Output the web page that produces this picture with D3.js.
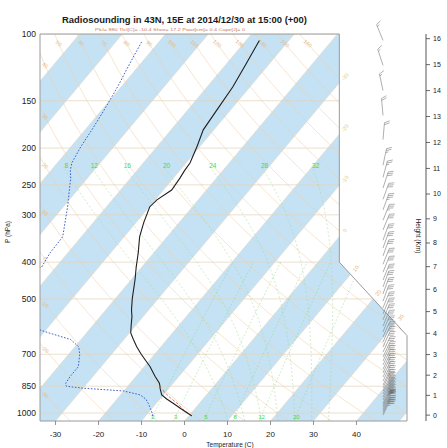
<!DOCTYPE html>
<html><head><meta charset="utf-8">
<script src="https://cdn.jsdelivr.net/npm/d3@7"></script>
<style>
body{margin:0;background:#fff}
svg{display:block;font-family:"Liberation Sans",Arial,Helvetica,sans-serif}
</style>
</head><body>
<svg id="chart" width="447" height="448"></svg>
<script>
// ---- Sounding (pressure hPa, temperature C, dew point C) ----
const presLevels = [1018,1000,975,943,920,896,875,860,850,835,800,755,700,669,640,615,585,557,535,500,445,412,378,343,315,286,274,258,240,229,219,198,179,159,138,120,104];
const tempC = [0.7,-0.9,-3.2,-6.1,-8.3,-10.4,-11.4,-12.1,-12.5,-13.2,-15.6,-18.6,-23.1,-25.6,-27.8,-29.7,-31.2,-32.6,-34.0,-36.0,-39.1,-41.3,-43.6,-46.4,-48.2,-49.9,-49.6,-48.1,-48.5,-48.9,-49.1,-50.7,-52.5,-53.2,-54.0,-55.4,-56.9];
const dewpC = [-8.4,-9.1,-10.3,-11.9,-13.2,-15.4,-20.0,-30.1,-34.3,-35.0,-35.3,-35.3,-37.4,-39.1,-42.4,-48.7,-56,-60,-64,-68,-67,-63.3,-64.1,-64.3,-66.5,-69.0,-70.2,-71.9,-73.9,-75.5,-76.6,-77.7,-78.4,-79.4,-80.8,-82.5,-84.1];

// lifted parcel
const parcelP = [1018,980,947,915,880,866];
const parcelT = [0.7,-2.5,-4.8,-7.6,-10.4,-11.3];

// winds (hPa, direction deg, speed kt)
const windP = [104,121,141,164,190,222,239,255,273,291,310,329,350,367,385,405,425,446,465,485,507,528,548,568,590,611,630,650,670,691,712,729,747,766,784,804,824,844,859,875,891,908,924,941,953,964,976,988,1000,1013];
const windDir = [338,342,348,355,5,12,15,18,20,20,22,22,20,20,20,22,22,22,20,20,20,22,22,22,22,22,24,24,24,25,25,25,25,25,25,25,25,25,25,26,26,26,26,26,26,26,26,26,26,26];
const windKt = [15,15,15,20,20,25,25,30,30,35,35,30,30,30,30,30,30,30,30,30,30,30,30,30,30,30,30,30,30,30,30,30,35,35,35,35,35,35,40,40,40,45,45,45,50,50,45,45,40,35];

// axes
const pressTicks = [1000,850,700,500,400,300,250,200,150,100];
const tempTicks = [-30,-20,-10,0,10,20,30,40];
const heightKm = [0,1,2,3,4,5,6,7,8,9,10,11,12,13,14,15,16];
const heightP = [1013.25,898.76,794.95,701.21,616.40,540.20,471.81,411.05,356.00,307.42,264.36,226.32,193.30,165.10,141.02,120.45,102.87];

// background families
const isothermBands = d3.range(-180, 60, 20);
const isotherms = d3.range(-180, 60, 10);
const isothermLabels = [-30,-20,-10,0,10,20,30];
const dryAdiabats = d3.range(-30, 170, 10);
const moistAdiabats = [8,12,16,20,24,28,32];
const mixRatios = [2,3,5,8,12,20];

const title = "Radiosounding in 43N, 15E  at  2014/12/30 at 15:00   (+00)";
const thermoInfo = "Plcl= 880  Tlcl[C]= -10.4  Shox= 17.2  Pwat[cm]= 0.4  Cape[J]= 0";

// ---- skew-T coordinates ----
const skewY = p => 132.182 - 44.061 * Math.log10(p);
const skewX = (t, p) => 0.54 * t + 0.90692 * skewY(p);
const sx = d3.scaleLinear().domain([-19, 27.1]).range([40, 407]);
const sy = d3.scaleLinear().domain([-0.9346217, 44.061]).range([421, 34]);
const PX = (t, p) => sx(skewX(t, p));
const PY = p => sy(skewY(p));

const svg = d3.select("#chart");

// outline of the diagram area (cut corner on the upper right)
const outline = [[-19,-0.9346217],[27.1,-0.9346217],[27.1,9.0],[18.6,17.53],[18.6,44.061],[-19,44.061]]
  .map(d => [sx(d[0]), sy(d[1])]);
const outlineInside = (x, y) => d3.polygonContains(outline, [x, y]);

svg.append("clipPath").attr("id","frame").append("polygon").attr("points", outline.map(d=>d.join(",")).join(" "));
const bg = svg.append("g").attr("clip-path","url(#frame)");

// isotherm colour bands
bg.selectAll("polygon.band").data(isothermBands).join("polygon").attr("class","band")
  .attr("points", t => [[PX(t,1050),PY(1050)],[PX(t+10,1050),PY(1050)],[PX(t+10,100),PY(100)],[PX(t,100),PY(100)]].map(d=>d.join(",")).join(" "))
  .attr("fill","#c4e2f4");

// isotherms
bg.selectAll("line.iso").data(isotherms).join("line")
  .attr("x1", t=>PX(t,1050)).attr("y1", PY(1050)).attr("x2", t=>PX(t,100)).attr("y2", PY(100))
  .attr("stroke","#ead7bd").attr("stroke-width",0.5);

// isobars
bg.selectAll("line.isobar").data(pressTicks).join("line")
  .attr("x1",40).attr("x2",407).attr("y1",PY).attr("y2",PY)
  .attr("stroke","#e2d2bc").attr("stroke-width",0.7);

const line = d3.line().x(d=>d[0]).y(d=>d[1]);
const pGrid = d3.range(1050, 99, -5);

// dry adiabats
const dryPath = th => pGrid.map(p => [PX((th+273.15)*Math.pow(p/1000,0.2857)-273.15, p), PY(p)]);
bg.selectAll("path.dry").data(dryAdiabats).join("path")
  .attr("d", th => line(dryPath(th))).attr("fill","none")
  .attr("stroke","#efcfa8").attr("stroke-width",0.55);

// pseudo-adiabats
const Rd=287.04, cp=1005.7, Lv=2.501e6, eps=0.622;
const esat = tk => 6.112*Math.exp(17.67*(tk-273.15)/(tk-29.65));
const wsat = (tk,p) => eps*esat(tk)/(p-esat(tk));
const dTdp = (tk,p) => { const r=wsat(tk,p); return (Rd*tk+Lv*r)/(p*(cp+Lv*Lv*r*eps/(Rd*tk*tk))); };
function moistPath(tw, pTop){
  const out=[]; let tk=tw+273.15, p=1000; const h=2;
  let tk2=tk, p2=1000; const low=[];
  while(p2<1050){ const k1=dTdp(tk2,p2), k2=dTdp(tk2+k1*h,p2+h); tk2+= (k1+k2)/2*h; p2+=h; low.push([tk2,p2]); }
  low.reverse().forEach(d=>out.push([d[0]-273.15,d[1]]));
  out.push([tk-273.15,p]);
  while(p>pTop){ const k1=dTdp(tk,p), k2=dTdp(tk-k1*h,p-h); tk-= (k1+k2)/2*h; p-=h; out.push([tk-273.15,p]); }
  return out;
}
bg.selectAll("path.moist").data(moistAdiabats).join("path")
  .attr("d", tw => line(moistPath(tw,224).map(d=>[PX(d[0],d[1]),PY(d[1])]))).attr("fill","none")
  .attr("stroke","#a8dc98").attr("stroke-width",0.55).attr("stroke-dasharray","2,2");

// saturation mixing-ratio lines
const tOfW = (w,p) => { const es = w*p/(622+w); const l=Math.log(es/6.112); return 243.5*l/(17.67-l); };
bg.selectAll("path.mix").data(mixRatios).join("path")
  .attr("d", w => line(d3.range(1050,399,-10).map(p=>[PX(tOfW(w,p),p),PY(p)]))).attr("fill","none")
  .attr("stroke","#8fd88a").attr("stroke-width",0.55).attr("stroke-dasharray","1.5,2");

// frame
svg.append("polygon").attr("points", outline.map(d=>d.join(",")).join(" "))
  .attr("fill","none").attr("stroke","#9a9a9a").attr("stroke-width",1);

// labels of the background families
const lab = svg.append("g").attr("font-size",5.5);
dryAdiabats.forEach(th => {
  const tAt = p => (th+273.15)*Math.pow(p/1000,0.2857)-273.15;
  let x, y;
  if (PX(tAt(106),106) > 48) { x = PX(tAt(106),106); y = PY(106); }
  else {
    let lo=106, hi=1050;
    for (let i=0;i<40;i++){ const m=(lo+hi)/2; if (PX(tAt(m),m) < 45) lo=m; else hi=m; }
    x = 45; y = PY(hi);
  }
  if (!outlineInside(x,y)) return;
  lab.append("text").attr("x",x).attr("y",y).attr("text-anchor","middle").attr("dy","0.35em")
    .attr("fill","#e2b98a").attr("transform",`rotate(40,${x},${y})`).text(th);
});
isothermLabels.forEach(t => {
  // where the isotherm leaves the diagram on the right
  let lo=-0.93, hi=44.06;
  for (let i=0;i<50;i++){ const m=(lo+hi)/2; const x=sx(0.54*t+0.90692*m), y=sy(m); if (outlineInside(x-0.5,y)) lo=m; else hi=m; }
  const x = sx(0.54*t+0.90692*lo)+5, y = sy(lo)-5.5;
  lab.append("text").attr("x",x).attr("y",y).attr("text-anchor","middle").attr("dy","0.35em")
    .attr("fill", t<10 ? "#d5d08a" : "#e6b27a").attr("transform",`rotate(-50,${x},${y})`).text(t);
});
moistAdiabats.forEach(tw => {
  const pts = moistPath(tw,222); const d = pts[pts.length-1];
  lab.append("text").attr("x",PX(d[0],d[1])+4).attr("y",PY(d[1])).attr("dy","0.35em").attr("text-anchor","middle")
    .attr("font-size",6.5).attr("fill","#3fdc3f").text(tw);
});
mixRatios.forEach(w => {
  lab.append("text").attr("x",PX(tOfW(w,1018),1018)).attr("y",PY(1018)+1).attr("dy","0.35em").attr("text-anchor","middle")
    .attr("font-size",6).attr("fill","#3fdc3f").text(w);
});

// ---- profiles ----
const plot = svg.append("g").attr("clip-path","url(#frame)");
plot.append("path").datum(d3.zip(parcelT, parcelP))
  .attr("d", line.x(d=>PX(d[0],d[1])).y(d=>PY(d[1])))
  .attr("fill","none").attr("stroke","#e46a6a").attr("stroke-width",0.9).attr("stroke-dasharray","3,1.5");
plot.append("path").datum(d3.zip(dewpC, presLevels))
  .attr("d", line.x(d=>PX(d[0],d[1])).y(d=>PY(d[1])))
  .attr("fill","none").attr("stroke","#3d5fc9").attr("stroke-width",1).attr("stroke-dasharray","1.6,1.6");
plot.append("path").datum(d3.zip(tempC, presLevels))
  .attr("d", line.x(d=>PX(d[0],d[1])).y(d=>PY(d[1])))
  .attr("fill","none").attr("stroke","#1f1f1f").attr("stroke-width",1.1);

// ---- wind barbs ----
const barbs = svg.append("g").attr("stroke","#7a7a7a").attr("stroke-width",0.6).attr("fill","#6a6a6a");
const barbX = 383, L = 17;
windP.forEach((p,i) => {
  const a = windDir[i]*Math.PI/180, ux = Math.sin(a), uy = -Math.cos(a);
  const x0 = barbX, y0 = PY(p), tx = x0+ux*L, ty = y0+uy*L;
  barbs.append("line").attr("x1",x0).attr("y1",y0).attr("x2",tx).attr("y2",ty);
  const r = 65*Math.PI/180, fx = ux*Math.cos(r)-uy*Math.sin(r), fy = ux*Math.sin(r)+uy*Math.cos(r);
  let s = Math.round(windKt[i]/5)*5, pos = 0; const step = 2, fl = 5.5;
  while (s >= 50) {
    const ax=tx-ux*pos, ay=ty-uy*pos, bx=tx-ux*(pos+step*1.5), by=ty-uy*(pos+step*1.5);
    barbs.append("polygon").attr("points",`${ax},${ay} ${ax+fx*fl},${ay+fy*fl} ${bx},${by}`);
    s -= 50; pos += step*2;
  }
  while (s >= 10) {
    const ax=tx-ux*pos, ay=ty-uy*pos;
    barbs.append("line").attr("x1",ax).attr("y1",ay).attr("x2",ax+fx*fl).attr("y2",ay+fy*fl);
    s -= 10; pos += step;
  }
  if (s >= 5) {
    if (pos === 0) pos = step;
    const ax=tx-ux*pos, ay=ty-uy*pos;
    barbs.append("line").attr("x1",ax).attr("y1",ay).attr("x2",ax+fx*fl/2).attr("y2",ay+fy*fl/2);
  }
});

// ---- axes ----
const ax = svg.append("g").attr("fill","#222");
ax.selectAll("text.p").data(pressTicks).join("text")
  .attr("x",36).attr("y",PY).attr("dy","0.35em").attr("text-anchor","end").attr("font-size",8.5).text(d=>d);
ax.selectAll("line.t").data(tempTicks).join("line")
  .attr("x1",t=>PX(t,1050)).attr("x2",t=>PX(t,1050)).attr("y1",421).attr("y2",425)
  .attr("stroke","#777").attr("stroke-width",0.8);
ax.selectAll("text.t").data(tempTicks).join("text")
  .attr("x",t=>PX(t,1050)).attr("y",437).attr("text-anchor","middle").attr("font-size",8).text(d=>d);
ax.append("text").attr("x",230).attr("y",447).attr("text-anchor","middle").attr("font-size",6.5).text("Temperature (C)");
ax.append("text").attr("transform","translate(10,232) rotate(-90)").attr("text-anchor","middle").attr("font-size",6.5).text("P (hPa)");

// height scale (standard atmosphere)
const hx = 426;
ax.append("line").attr("x1",hx).attr("x2",hx).attr("y1",34).attr("y2",421).attr("stroke","#444").attr("stroke-width",0.9);
ax.selectAll("line.h").data(heightP).join("line")
  .attr("x1",hx).attr("x2",hx+4).attr("y1",PY).attr("y2",PY).attr("stroke","#444").attr("stroke-width",0.8);
ax.selectAll("text.h").data(heightKm).join("text")
  .attr("x",hx+7).attr("y",(d,i)=>PY(heightP[i])).attr("dy","0.35em").attr("font-size",7).text(d=>d);
ax.append("text").attr("transform","translate(416,236) rotate(90)").attr("text-anchor","middle").attr("font-size",6.5).text("Height (Km)");

// titles
svg.append("text").attr("x",62).attr("y",23).attr("font-size",9).attr("font-weight","bold").attr("fill","#1a1a1a")
  .attr("textLength",245).attr("lengthAdjust","spacingAndGlyphs").text(title);
svg.append("text").attr("x",95).attr("y",31).attr("font-size",4.2).attr("fill","#c47a66")
  .attr("textLength",150).attr("lengthAdjust","spacingAndGlyphs").text(thermoInfo);
</script>
</body></html>
